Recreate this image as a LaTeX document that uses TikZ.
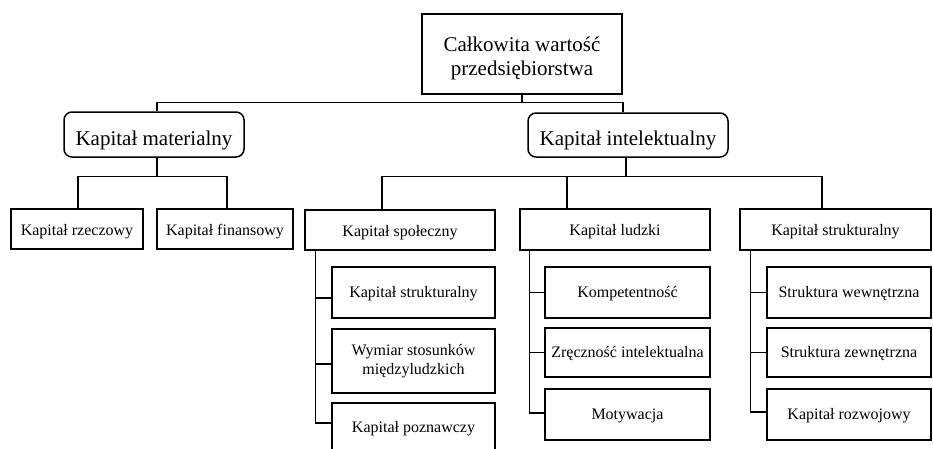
\documentclass[tikz,border=0pt]{standalone}
\usepackage{fontspec}
\setmainfont{Liberation Serif}
\tikzset{
  basebox/.style={draw, line width=1.5pt, inner sep=0pt, align=center},
  topbox/.style={basebox},
  toplabel/.style={inner sep=0pt, align=center, font=\fontsize{21}{23.5}\selectfont},
  lvtwo/.style={basebox, rounded corners=8pt, font=\fontsize{21}{24}\selectfont, text height=21pt, text depth=0pt},
  lvthree/.style={basebox, font=\fontsize{16}{19.5}\selectfont, text height=12pt, text depth=0pt},
  lvfourbase/.style={basebox, font=\fontsize{16}{19.5}\selectfont},
  lvfour/.style={lvfourbase, text height=12pt, text depth=2.8pt},
  conn/.style={line width=1.3pt}
}
\begin{document}
\begin{tikzpicture}[x=1pt,y=-1pt]
\useasboundingbox (0,0) rectangle (933,448);
% level 1
\node[topbox, minimum width=200pt, minimum height=80pt] (top) at (522,54) {};
\node[toplabel] (toptext) at (522,58.6) {Całkowita wartość\\przedsiębiorstwa};
% level 2
\node[lvtwo, minimum width=180pt, minimum height=45pt] (mat) at (154,134.5) {Kapitał materialny};
\node[lvtwo, minimum width=200pt, minimum height=44pt] (int) at (628,135) {Kapitał intelektualny};
% level 3
\node[lvthree, minimum width=132pt, minimum height=40pt] (rz) at (77,229) {Kapitał rzeczowy};
\node[lvthree, minimum width=136pt, minimum height=40pt] (fin) at (225,229) {Kapitał finansowy};
\node[lvthree, minimum width=190pt, minimum height=40pt] (spo) at (400,230) {Kapitał społeczny};
\node[lvthree, minimum width=190pt, minimum height=41pt] (lud) at (615,229.5) {Kapitał ludzki};
\node[lvthree, minimum width=191pt, minimum height=41pt] (str) at (835.5,229.5) {Kapitał strukturalny};
% level 4
\node[lvfour, minimum width=163pt, minimum height=51pt] (s1) at (413.5,292.5) {Kapitał strukturalny};
\node[lvfourbase, minimum width=163pt, minimum height=64pt] (s2) at (413.5,361) {Wymiar stosunków\\międzyludzkich};
\node[lvfour, minimum width=163pt, minimum height=50pt] (s3) at (413.5,428) {Kapitał poznawczy};
\node[lvfour, minimum width=165pt, minimum height=51pt] (l1) at (627.5,292.5) {Kompetentność};
\node[lvfour, minimum width=165pt, minimum height=49pt] (l2) at (627.5,352.5) {Zręczność intelektualna};
\node[lvfour, minimum width=165pt, minimum height=51pt] (l3) at (627.5,414.5) {Motywacja};
\node[lvfour, minimum width=164pt, minimum height=51pt] (t1) at (849,292.5) {Struktura wewnętrzna};
\node[lvfour, minimum width=164pt, minimum height=49pt] (t2) at (849,352.5) {Struktura zewnętrzna};
\node[lvfour, minimum width=164pt, minimum height=51pt] (t3) at (849,414.5) {Kapitał rozwojowy};
% connectors level 1 -> 2
\draw[conn] (top.south) -- ++(0,8) coordinate (tj);
\draw[conn] ([xshift=3pt]mat.north) |- (tj) -| ([xshift=-5pt]int.north);
% material
\draw[conn] ([xshift=3pt]mat.south) -- ++(0,19) coordinate (mj);
\draw[conn] ([xshift=1pt]rz.north) |- (mj) -| ([xshift=2pt]fin.north);
% intellectual
\draw[conn] ([xshift=-2pt]int.south) -- ++(0,19) coordinate (ij);
\draw[conn] ([xshift=-18pt]spo.north) |- (ij) -| ([xshift=-13.5pt]str.north);
\draw[conn] ([xshift=-48pt]lud.north) -- ([xshift=-48pt]lud.north |- ij);
% social column
\draw[conn] ([xshift=11pt]spo.south west) |- ([yshift=5pt]s3.west);
\draw[conn] ([yshift=-5.5pt]s1.west) -- ++(-16,0);
\draw[conn] ([yshift=-3pt]s2.west) -- ++(-16,0);
% human column
\draw[conn] ([xshift=10pt]lud.south west) |- ([yshift=1.5pt]l3.west);
\draw[conn] (l1.west) -- ++(-15,0);
\draw[conn] (l2.west) -- ++(-15,0);
% structural column
\draw[conn] ([xshift=11pt]str.south west) |- ([yshift=2.5pt]t3.west);
\draw[conn] (t1.west) -- ++(-16,0);
\draw[conn] (t2.west) -- ++(-16,0);
\end{tikzpicture}
\end{document}
